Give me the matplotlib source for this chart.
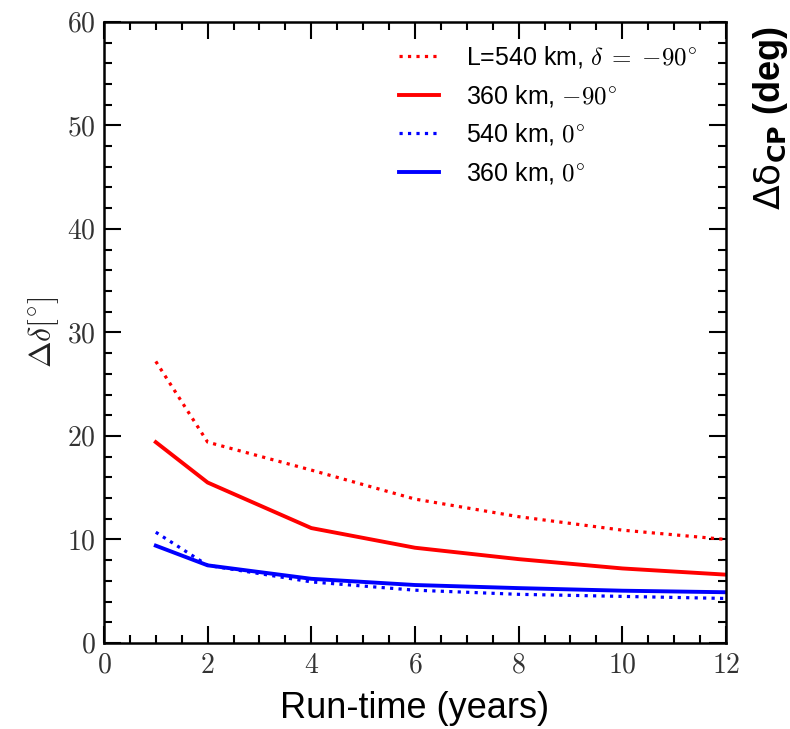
"""
Delta-CP resolution vs run-time for two baselines and two true delta values.
Saves out.png
"""

import matplotlib

matplotlib.use("Agg")
import matplotlib.pyplot as plt
from matplotlib.ticker import FuncFormatter, MultipleLocator

plt.rcParams["font.family"] = ["Liberation Sans", "DejaVu Sans"]
plt.rcParams["mathtext.fontset"] = "cm"

run_time = [1, 2, 4, 6, 8, 10, 12]
red_540 = [27.2, 19.4, 16.7, 13.9, 12.2, 10.9, 10.0]
red_360 = [19.4, 15.5, 11.1, 9.2, 8.1, 7.2, 6.6]
blue_540 = [10.7, 7.5, 5.9, 5.1, 4.7, 4.5, 4.3]
blue_360 = [9.4, 7.5, 6.2, 5.6, 5.3, 5.05, 4.9]

labels = [
    r"L=540 km, $\delta\;=\;{-}90^{\circ}$",
    r"360 km, $-90^{\circ}$",
    r"540 km, $0^{\circ}$",
    r"360 km, $0^{\circ}$",
]


def math_label(v, pos):
    return f"${v:g}$"


def main() -> None:
    fig = plt.figure(figsize=(7.9, 7.29), dpi=100)
    ax = fig.add_axes([0.1316, 0.118, 0.7874, 0.852])

    ax.plot(run_time, red_540, color="#ff0000", lw=2.3, ls=":", label=labels[0])
    ax.plot(run_time, red_360, color="#ff0000", lw=2.8, ls="-", label=labels[1])
    ax.plot(run_time, blue_540, color="#0000ff", lw=2.3, ls=":", label=labels[2])
    ax.plot(run_time, blue_360, color="#0000ff", lw=2.8, ls="-", label=labels[3])

    ax.set_xlim(0, 12)
    ax.set_ylim(0, 60)
    ax.xaxis.set_major_locator(MultipleLocator(2))
    ax.xaxis.set_minor_locator(MultipleLocator(0.5))
    ax.yaxis.set_major_locator(MultipleLocator(10))
    ax.yaxis.set_minor_locator(MultipleLocator(2))
    ax.xaxis.set_major_formatter(FuncFormatter(math_label))
    ax.yaxis.set_major_formatter(FuncFormatter(math_label))

    ax.tick_params(which="both", direction="in", top=True, right=True,
                   width=1.5, labelsize=20, colors="black")
    ax.tick_params(which="major", length=12)
    ax.tick_params(which="minor", length=6)
    ax.tick_params(axis="y", which="major", pad=6, labelcolor="#333333")
    ax.tick_params(axis="x", which="major", pad=7, labelcolor="#333333")
    for spine in ax.spines.values():
        spine.set_linewidth(1.8)

    ax.set_xlabel("Run-time (years)", fontsize=26, labelpad=9)
    ax.set_ylabel(r"$\Delta\delta[^{\circ}]$", fontsize=23, labelpad=4, color="#222222")

    fig.text(0.975, 0.838, r"$\mathrm{\Delta\delta}_{\mathbf{CP}}$ (deg)", rotation=90,
             fontsize=26, fontweight="bold", ha="center", va="center",
             math_fontfamily="dejavusans")

    ax.legend(loc="upper right", bbox_to_anchor=(0.99, 1.0), frameon=False,
              fontsize=18, handlelength=1.6, handletextpad=1.1,
              labelspacing=0.5, borderaxespad=0.5)

    fig.savefig("out.png", dpi=100)
    plt.close(fig)


if __name__ == "__main__":
    main()
